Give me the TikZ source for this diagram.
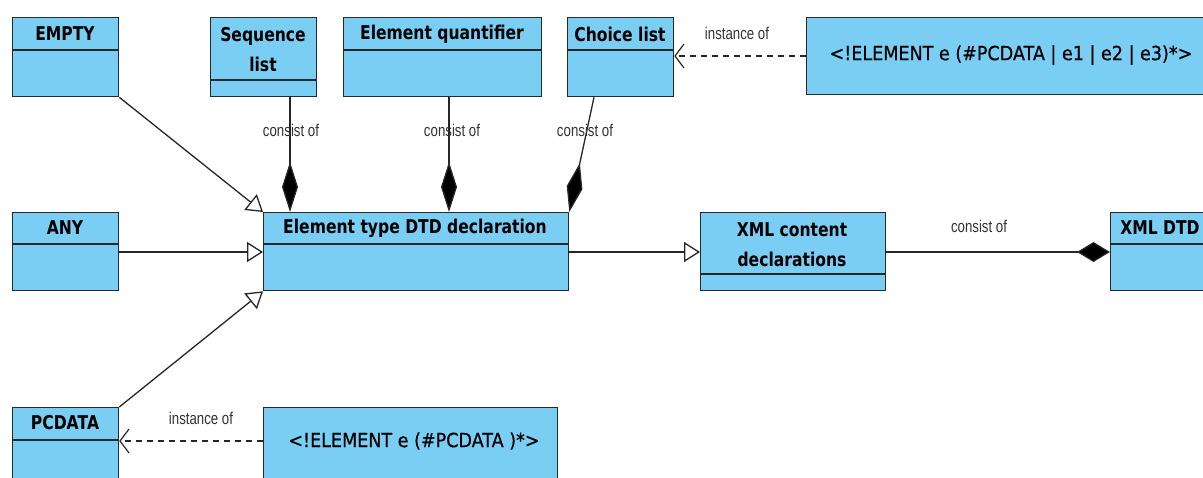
\documentclass[tikz,border=0pt]{standalone}
\usepackage{fontspec}
\setmainfont{DejaVu Sans}
\newfontfamily\titlefont[FakeStretch=0.82]{DejaVu Sans}
\newfontfamily\labfont[FakeStretch=0.78]{Liberation Sans}
\newfontfamily\codefont[FakeStretch=0.9,FakeBold=0.5]{DejaVu Sans}
\usetikzlibrary{arrows.meta,calc}
\definecolor{clsfill}{RGB}{122,206,243}
\definecolor{clsdraw}{RGB}{40,40,40}
\tikzset{
  cls/.style={draw=clsdraw,fill=clsfill,line width=1.3pt,inner sep=0pt,anchor=north west},
  div/.style={draw=clsdraw,line width=1.3pt},
  ttl/.style={font=\titlefont\bfseries\fontsize{19}{30}\selectfont,inner sep=0pt,align=center,text=black},
  code/.style={font=\codefont\fontsize{19.5}{22}\selectfont,inner sep=0pt,text=black},
  lab/.style={font=\labfont\fontsize{17}{20}\selectfont,inner sep=0pt,text=black!80},
  conn/.style={line width=1.3pt,draw=black!85},
  gen/.style={conn,-{Triangle[open,length=16pt,width=20pt,fill=white]}},
  comp/.style={conn,-{Diamond[length=50pt,width=16pt,fill=black]}},
  comph/.style={conn,-{Diamond[length=33pt,width=20pt,fill=black]}},
  dep/.style={conn,dash pattern=on 6pt off 5pt,-{Straight Barb[length=9pt,width=24pt,line width=1.2pt]}},
}
\begin{document}
\begin{tikzpicture}[x=1pt,y=-1pt]
\useasboundingbox (0,0) rectangle (1203,477);
\fill[white] (0,0) rectangle (1203,477);
% class boxes
\node[cls,minimum width=106pt,minimum height=79pt] (empty) at (12,17) {};
\draw[div] (empty.west |- 0,50) -- (empty.east |- 0,50);
\node[ttl] at (65,34) {EMPTY};

\node[cls,minimum width=106pt,minimum height=79pt] (seq) at (210,17) {};
\draw[div] (seq.west |- 0,80) -- (seq.east |- 0,80);
\node[ttl] at (263,50) {Sequence\\list};

\node[cls,minimum width=198pt,minimum height=79pt] (quant) at (343,17) {};
\draw[div] (quant.west |- 0,50) -- (quant.east |- 0,50);
\node[ttl] at (442,34) {Element quantifier};

\node[cls,minimum width=106pt,minimum height=79pt] (choice) at (567,17) {};
\draw[div] (choice.west |- 0,50) -- (choice.east |- 0,50);
\node[ttl] at (620,34) {Choice list};

\node[cls,minimum width=410pt,minimum height=77pt] (elchoice) at (806,17) {};
\node[code] at (1011,55) {<!ELEMENT e (\#PCDATA | e1 | e2 | e3)*>};

\node[cls,minimum width=106pt,minimum height=78pt] (any) at (12,212) {};
\draw[div] (any.west |- 0,244) -- (any.east |- 0,244);
\node[ttl] at (65,228) {ANY};

\node[cls,minimum width=305pt,minimum height=78pt] (etd) at (263,212) {};
\draw[div] (etd.west |- 0,244) -- (etd.east |- 0,244);
\node[ttl] at (415,228) {Element type DTD declaration};

\node[cls,minimum width=185pt,minimum height=78pt] (xcd) at (700,212) {};
\draw[div] (xcd.west |- 0,274) -- (xcd.east |- 0,274);
\node[ttl] at (792,245) {XML content\\declarations};

\node[cls,minimum width=104pt,minimum height=78pt] (dtd) at (1110,212) {};
\draw[div] (dtd.west |- 0,244) -- (dtd.east |- 0,244);
\node[ttl] at (1160,228) {XML DTD};

\node[cls,minimum width=106pt,minimum height=90pt] (pcdata) at (12,407) {};
\draw[div] (pcdata.west |- 0,440) -- (pcdata.east |- 0,440);
\node[ttl] at (65,423) {PCDATA};

\node[cls,minimum width=294pt,minimum height=90pt] (elpc) at (263,407) {};
\node[code] at (414,441) {<!ELEMENT e (\#PCDATA )*>};

% connectors
\draw[gen] (empty.south east) -- (etd.north west);
\draw[gen] (any.east |- 0,252) -- (etd.west |- 0,252);
\draw[gen] (pcdata.north east) -- (etd.south west);
\draw[comp] ($(seq.south west)+(80,0)$) -- ($(etd.north west)+(27,0)$);
\draw[comp] ($(quant.south west)+(106,0)$) -- ($(etd.north west)+(186,0)$);
\draw[comp] ($(choice.south west)+(27,0)$) -- (etd.north east);
\draw[gen] (etd.east |- 0,252) -- (xcd.west |- 0,252);
\draw[comph] (xcd.east |- 0,252) -- (dtd.west |- 0,252);
\draw[dep] (elchoice.west |- 0,56) -- (choice.east |- 0,56);
\draw[dep] (elpc.west |- 0,441) -- (pcdata.east |- 0,441);

% labels
\node[lab] at (291,130) {consist of};
\node[lab] at (452,130) {consist of};
\node[lab] at (585,130) {consist of};
\node[lab] at (979,226) {consist of};
\node[lab] at (737,33) {instance of};
\node[lab] at (201,418) {instance of};
\end{tikzpicture}
\end{document}
